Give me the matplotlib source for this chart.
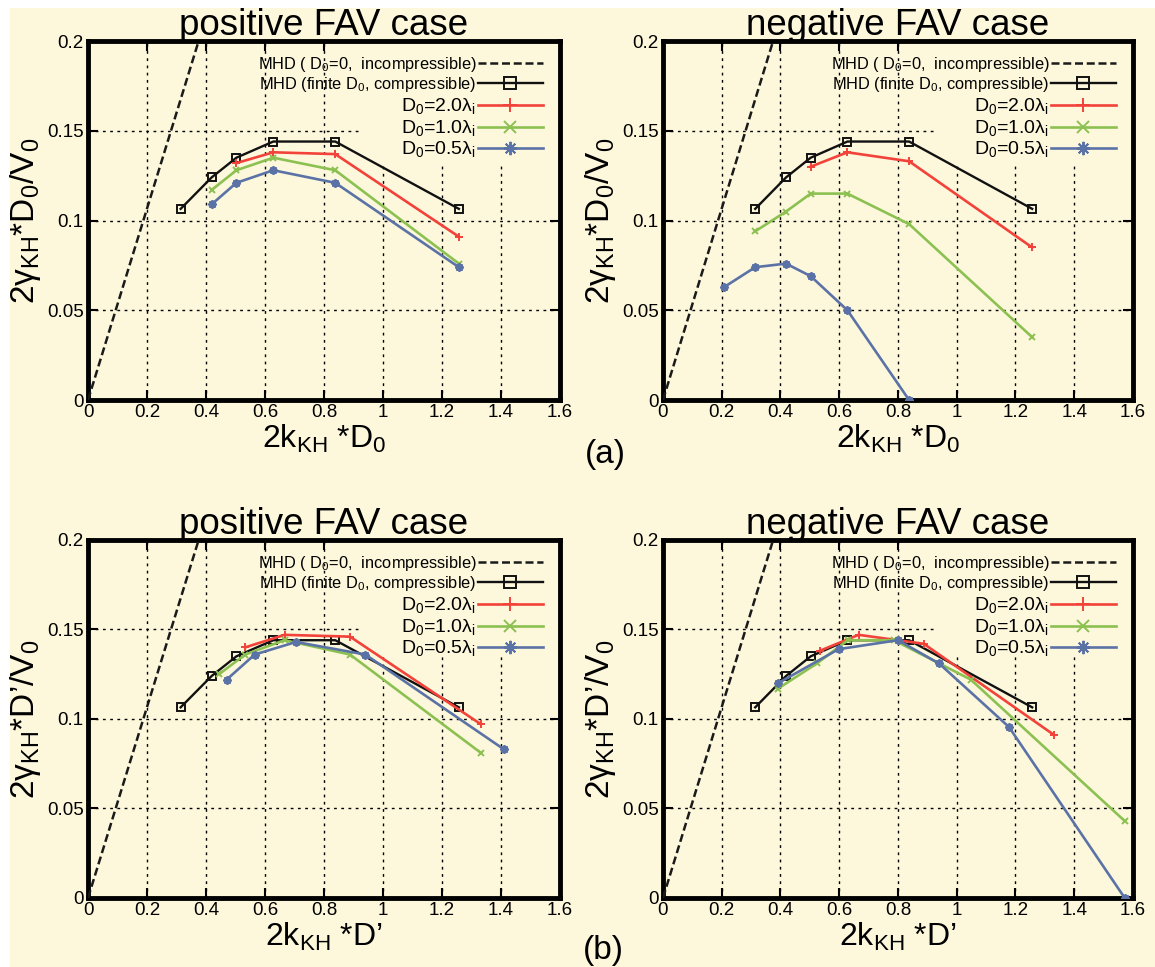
import matplotlib
matplotlib.use("Agg")
import matplotlib.pyplot as plt
from matplotlib.patches import Rectangle

plt.rcParams['font.family'] = ['Liberation Sans', 'DejaVu Sans']
plt.rcParams['mathtext.fontset'] = 'custom'
plt.rcParams['mathtext.rm'] = 'Liberation Sans'
plt.rcParams['mathtext.default'] = 'regular'

CREAM = '#fdf8dc'
RED = '#f2423a'
GREEN = '#8cc152'
BLUE = '#5b72a6'
BLACK = '#111111'

# incompressible MHD growth rate (straight line through the origin)
mhd_incomp_x = [0.0, 0.375]
mhd_incomp_y = [0.0, 0.2]

# compressible MHD, finite D0 (same in every panel)
mhd_comp_x = [0.314, 0.419, 0.503, 0.628, 0.838, 1.257]
mhd_comp_y = [0.1065, 0.124, 0.135, 0.144, 0.144, 0.1065]

# positive FAV, normalised by D0
pos_d0_red_x = [0.503, 0.628, 0.838, 1.257]
pos_d0_red_y = [0.132, 0.138, 0.137, 0.091]
pos_d0_green_x = [0.419, 0.503, 0.628, 0.838, 1.257]
pos_d0_green_y = [0.117, 0.128, 0.135, 0.128, 0.076]
pos_d0_blue_x = [0.419, 0.503, 0.628, 0.838, 1.257]
pos_d0_blue_y = [0.109, 0.121, 0.128, 0.121, 0.074]

# negative FAV, normalised by D0
neg_d0_red_x = [0.503, 0.628, 0.838, 1.257]
neg_d0_red_y = [0.130, 0.138, 0.133, 0.085]
neg_d0_green_x = [0.314, 0.419, 0.503, 0.628, 0.838, 1.257]
neg_d0_green_y = [0.094, 0.105, 0.115, 0.115, 0.098, 0.035]
neg_d0_blue_x = [0.209, 0.314, 0.419, 0.503, 0.628, 0.838]
neg_d0_blue_y = [0.063, 0.074, 0.076, 0.069, 0.050, 0.0]

# positive FAV, normalised by D'
pos_dp_red_x = [0.533, 0.666, 0.888, 1.332]
pos_dp_red_y = [0.140, 0.147, 0.146, 0.097]
pos_dp_green_x = [0.444, 0.533, 0.666, 0.888, 1.332]
pos_dp_green_y = [0.125, 0.136, 0.144, 0.136, 0.081]
pos_dp_blue_x = [0.470, 0.565, 0.705, 0.940, 1.410]
pos_dp_blue_y = [0.122, 0.136, 0.143, 0.136, 0.083]

# negative FAV, normalised by D'
neg_dp_red_x = [0.533, 0.666, 0.888, 1.332]
neg_dp_red_y = [0.138, 0.147, 0.142, 0.091]
neg_dp_green_x = [0.392, 0.524, 0.629, 0.786, 1.048, 1.572]
neg_dp_green_y = [0.117, 0.131, 0.144, 0.144, 0.122, 0.043]
neg_dp_blue_x = [0.392, 0.598, 0.800, 0.940, 1.178, 1.572]
neg_dp_blue_y = [0.120, 0.139, 0.144, 0.131, 0.0955, 0.0]

legend_labels = [
    'MHD ( D$_0$=0,  incompressible)',
    'MHD (finite D$_0$, compressible)',
    'D$_0$=2.0λ$_i$',
    'D$_0$=1.0λ$_i$',
    'D$_0$=0.5λ$_i$',
]
x_ticks = [0, 0.2, 0.4, 0.6, 0.8, 1.0, 1.2, 1.4, 1.6]
x_tick_labels = ['0', '0.2', '0.4', '0.6', '0.8', '1', '1.2', '1.4', '1.6']
y_ticks = [0, 0.05, 0.1, 0.15, 0.2]
y_tick_labels = ['0', '0.05', '0.1', '0.15', '0.2']


def draw_panel(ax, title, xlabel, ylabel, red, green, blue, blank_y):
    ax.set_facecolor(CREAM)
    ax.set_xlim(0, 1.6)
    ax.set_ylim(0, 0.2)
    ax.set_xticks(x_ticks)
    ax.set_xticklabels(x_tick_labels)
    ax.set_yticks(y_ticks)
    ax.set_yticklabels(y_tick_labels)
    ax.tick_params(direction='in', length=7, width=1.5, top=True, right=True,
                   labelsize=13.5, pad=3)
    for s in ax.spines.values():
        s.set_linewidth(3.5)
    ax.set_axisbelow(True)
    ax.grid(True, color='black', lw=1.0, linestyle=(0, (2, 3.2)))

    # key area blanks out the grid behind it
    ax.add_patch(Rectangle((0.58, blank_y), 0.42, 1 - blank_y, transform=ax.transAxes,
                           facecolor=CREAM, edgecolor='none', zorder=1))

    h1, = ax.plot(mhd_incomp_x, mhd_incomp_y, color='#1a1a1a', lw=1.8,
                  dashes=(3.2, 1.5), zorder=3)
    h2, = ax.plot(mhd_comp_x, mhd_comp_y, color=BLACK, lw=1.7, marker='s', ms=5.5,
                  mfc='none', mec=BLACK, mew=1.4, zorder=3)
    h3, = ax.plot(red[0], red[1], color=RED, lw=1.9, marker='+', ms=6, mew=1.4, zorder=4)
    h4, = ax.plot(green[0], green[1], color=GREEN, lw=1.9, marker='x', ms=5, mew=1.4, zorder=4)
    h5, = ax.plot(blue[0], blue[1], color=BLUE, lw=1.9, marker=(8, 2, 0), ms=6, mew=1.4,
                  zorder=4)

    leg = ax.legend([h1, h2, h3, h4, h5], legend_labels, loc='upper right',
                    bbox_to_anchor=(0.985, 0.99), frameon=False, markerfirst=False,
                    handlelength=3.9, handletextpad=0.1, labelspacing=0.1,
                    markerscale=1.6, fontsize=12, borderaxespad=0.2)
    for i, t in enumerate(leg.get_texts()):
        t.set_fontsize(11.8 if i < 2 else 14)
    leg.set_zorder(5)

    ax.set_title(title, fontsize=26.5, pad=4)
    ax.set_xlabel(xlabel, fontsize=23, labelpad=1)
    ax.set_ylabel(ylabel, fontsize=24, labelpad=3)


fig = plt.figure(figsize=(11.55, 9.67), dpi=100, facecolor='white')
fig.patches.append(Rectangle((10 / 1155, 0), 1, 1 - 8 / 967, transform=fig.transFigure,
                             facecolor=CREAM, edgecolor='none', zorder=-10))

ax_tl = fig.add_axes([0.0762, 0.5863, 0.4087, 0.3713])
ax_tr = fig.add_axes([0.5740, 0.5863, 0.4069, 0.3713])
ax_bl = fig.add_axes([0.0762, 0.0714, 0.4087, 0.3702])
ax_br = fig.add_axes([0.5740, 0.0714, 0.4069, 0.3702])

xlab_d0 = '2k$_{KH}$ *D$_0$'
xlab_dp = '2k$_{KH}$ *D’'
ylab_d0 = '2γ$_{KH}$*D$_0$/V$_0$'
ylab_dp = '2γ$_{KH}$*D’/V$_0$'

draw_panel(ax_tl, 'positive FAV case', xlab_d0, ylab_d0,
           (pos_d0_red_x, pos_d0_red_y), (pos_d0_green_x, pos_d0_green_y),
           (pos_d0_blue_x, pos_d0_blue_y), 0.66)
draw_panel(ax_tr, 'negative FAV case', xlab_d0, ylab_d0,
           (neg_d0_red_x, neg_d0_red_y), (neg_d0_green_x, neg_d0_green_y),
           (neg_d0_blue_x, neg_d0_blue_y), 0.66)
draw_panel(ax_bl, 'positive FAV case', xlab_dp, ylab_dp,
           (pos_dp_red_x, pos_dp_red_y), (pos_dp_green_x, pos_dp_green_y),
           (pos_dp_blue_x, pos_dp_blue_y), 0.685)
draw_panel(ax_br, 'negative FAV case', xlab_dp, ylab_dp,
           (neg_dp_red_x, neg_dp_red_y), (neg_dp_green_x, neg_dp_green_y),
           (neg_dp_blue_x, neg_dp_blue_y), 0.685)

fig.text(605 / 1155, 1 - 455 / 967, '(a)', fontsize=24, ha='center', va='center')
fig.text(603 / 1155, 1 - 950 / 967, '(b)', fontsize=24, ha='center', va='center')

fig.savefig('out.png', dpi=100, facecolor=fig.get_facecolor())
